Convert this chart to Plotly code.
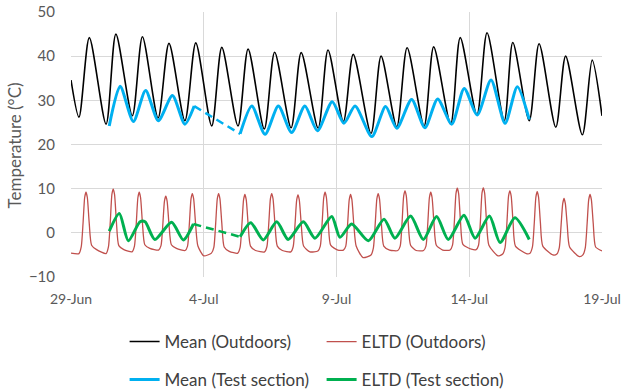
import pandas as pd
import plotly.graph_objects as go

base = pd.Timestamp("2019-06-29")

# ---- Mean (Outdoors): time in days since 29-Jun, temperature (°C)
mean_out_t = [0.00, 0.30, 0.69, 1.32, 1.69, 2.31, 2.69, 3.28, 3.69, 4.29, 4.70, 5.30, 5.68,
              6.29, 6.67, 7.28, 7.67, 8.29, 8.67, 9.31, 9.68, 10.26, 10.63, 11.30, 11.68,
              12.27, 12.66, 13.30, 13.66, 14.30, 14.66, 15.29, 15.67, 16.32, 16.64, 17.26,
              17.63, 18.26, 18.63, 19.26, 19.63, 20.00]
mean_out_v = [34.6, 26.2, 44.2, 24.6, 45.0, 26.5, 44.4, 26.0, 42.9, 25.4, 43.0, 24.2, 42.0,
              24.2, 41.6, 23.5, 40.9, 23.8, 40.8, 23.7, 41.4, 25.2, 40.4, 22.5, 40.0,
              24.0, 41.9, 24.2, 42.1, 24.6, 44.2, 26.7, 45.3, 25.4, 43.1, 25.4,
              42.8, 23.9, 40.0, 22.2, 39.1, 26.5]

# ---- ELTD (Outdoors): one row per day (low, rise, half, near top, peak, near top, half, fall, flat)
eltd_out_t = [0.00,
              0.30, 0.385, 0.455, 0.515, 0.565, 0.615, 0.685, 0.775, 0.965,
              1.32, 1.41, 1.48, 1.54, 1.59, 1.64, 1.71, 1.80, 1.99,
              2.30, 2.39, 2.46, 2.52, 2.57, 2.62, 2.69, 2.78, 2.97,
              3.30, 3.39, 3.46, 3.52, 3.57, 3.62, 3.69, 3.78, 3.97,
              4.30, 4.39, 4.46, 4.52, 4.57, 4.62, 4.69, 4.78, 5.00,
              5.29, 5.38, 5.45, 5.51, 5.56, 5.61, 5.68, 5.77, 5.96,
              6.28, 6.37, 6.44, 6.50, 6.55, 6.60, 6.67, 6.76, 6.95,
              7.29, 7.38, 7.45, 7.51, 7.56, 7.61, 7.68, 7.77, 7.96,
              8.28, 8.37, 8.44, 8.50, 8.55, 8.60, 8.67, 8.76, 9.00,
              9.30, 9.39, 9.46, 9.52, 9.57, 9.62, 9.69, 9.78, 10.05,
              10.26, 10.35, 10.42, 10.48, 10.53, 10.58, 10.65, 10.74, 11.00,
              11.30, 11.39, 11.46, 11.52, 11.57, 11.62, 11.69, 11.78, 12.00,
              12.31, 12.40, 12.47, 12.53, 12.58, 12.63, 12.70, 12.79, 13.00,
              13.28, 13.37, 13.44, 13.50, 13.55, 13.60, 13.67, 13.76, 14.00,
              14.28, 14.37, 14.44, 14.50, 14.55, 14.60, 14.67, 14.76, 15.08,
              15.26, 15.35, 15.42, 15.48, 15.53, 15.58, 15.65, 15.74, 16.08,
              16.26, 16.35, 16.42, 16.48, 16.53, 16.58, 16.65, 16.74, 17.15,
              17.29, 17.38, 17.45, 17.51, 17.56, 17.61, 17.68, 17.77, 18.15,
              18.30, 18.39, 18.46, 18.52, 18.57, 18.62, 18.69, 18.78, 19.15,
              19.28, 19.37, 19.44, 19.50, 19.55, 19.60, 19.67, 19.76, 20.00]
eltd_out_v = [-4.6,
              -4.7, -3.2, 2.3, 8.0, 9.2, 8.0, 2.3, -2.8, -3.8,
              -4.7, -3.2, 2.5, 8.7, 9.9, 8.7, 2.5, -2.9, -3.8,
              -4.3, -3.0, 2.3, 8.0, 9.2, 8.0, 2.3, -2.7, -3.5,
              -3.9, -2.9, 2.0, 7.2, 8.3, 7.2, 2.0, -2.7, -3.5,
              -4.0, -3.0, 2.2, 7.7, 8.9, 7.7, 2.2, -3.0, -5.2,
              -4.6, -3.3, 2.2, 7.7, 8.9, 7.7, 2.2, -3.2, -4.2,
              -4.6, -3.3, 2.1, 7.5, 8.7, 7.5, 2.1, -3.0, -4.0,
              -4.3, -3.1, 2.2, 7.7, 8.9, 7.7, 2.2, -3.0, -4.0,
              -4.3, -3.1, 2.1, 7.4, 8.6, 7.4, 2.1, -3.0, -4.3,
              -4.1, -3.0, 2.3, 8.0, 9.2, 8.0, 2.3, -2.8, -3.9,
              -3.9, -3.0, 2.1, 7.5, 8.7, 7.5, 2.1, -3.0, -5.6,
              -5.0, -3.4, 2.2, 7.7, 8.9, 7.7, 2.2, -3.0, -3.9,
              -4.0, -3.0, 2.4, 8.3, 9.5, 8.3, 2.4, -2.8, -4.0,
              -4.0, -3.0, 2.3, 8.0, 9.2, 8.0, 2.3, -2.8, -3.9,
              -3.9, -2.8, 2.6, 8.9, 10.1, 8.9, 2.6, -2.6, -3.7,
              -3.8, -2.8, 2.6, 9.0, 10.2, 9.0, 2.6, -2.8, -5.2,
              -4.8, -3.3, 2.4, 8.3, 9.5, 8.3, 2.4, -3.0, -4.7,
              -4.6, -3.2, 2.3, 8.1, 9.3, 8.1, 2.3, -3.0, -5.0,
              -4.8, -3.4, 1.8, 6.6, 7.8, 6.6, 1.8, -3.2, -5.4,
              -5.0, -3.4, 2.1, 7.5, 8.7, 7.5, 2.1, -3.2, -4.1]

# ---- Mean (Test section): two measured parts, joined by a dashed gap
mean_ts_t1 = [1.44, 1.85, 2.35, 2.81, 3.29, 3.82, 4.29, 4.64]
mean_ts_v1 = [24.2, 33.2, 25.2, 32.2, 25.4, 31.1, 24.6, 28.7]
mean_ts_t2 = [6.37, 6.81, 7.31, 7.81, 8.31, 8.81, 9.28, 9.84, 10.28, 10.70, 11.33, 11.85,
              12.27, 12.83, 13.33, 13.81, 14.34, 14.81, 15.30, 15.82, 16.35, 16.81, 17.26]
mean_ts_v2 = [22.4, 28.7, 22.3, 28.7, 22.7, 28.7, 23.1, 29.7, 24.8, 28.7, 21.8, 28.6,
              23.7, 30.2, 23.8, 30.3, 24.6, 32.7, 26.7, 34.6, 24.8, 33.1, 25.7]

# ---- ELTD (Test section)
eltd_ts_t1 = [1.44, 1.82, 2.16, 2.60, 2.79, 3.16, 3.79, 4.23, 4.61]
eltd_ts_v1 = [0.4, 4.4, -1.8, 2.5, 2.5, -1.5, 2.4, -1.6, 2.0]
eltd_ts_t2 = [6.37, 6.77, 7.24, 7.75, 8.18, 8.75, 9.19, 9.82, 10.13, 10.57, 11.20, 11.79,
              12.20, 12.79, 13.27, 13.77, 14.21, 14.80, 15.22, 15.76, 16.16, 16.72, 17.26]
eltd_ts_v2 = [-0.9, 2.3, -1.6, 2.5, -1.5, 2.5, -1.2, 3.7, -1.0, 2.0, -1.8, 3.1,
              -1.2, 3.8, -1.5, 3.7, -1.5, 4.0, -1.2, 3.8, -2.2, 3.4, -1.5]

tick_days = [0, 5, 10, 15, 20]
y_title = "Temperature (°C)"


def to_dt(days):
    return [base + pd.Timedelta(days=d) for d in days]


BLACK = "#000000"
RED = "#C0504D"
BLUE = "#00B0F0"
GREEN = "#00B050"
FONT = "Lato"
W, H = 624, 389
ML, MR, MT, MB = 71, 22, 12, 112

fig = go.Figure()
fig.add_trace(go.Scatter(x=to_dt(mean_out_t), y=mean_out_v, mode="lines", name="Mean (Outdoors)",
                         line=dict(color=BLACK, width=1.6, shape="spline", smoothing=0.8),
                         legend="legend"))
fig.add_trace(go.Scatter(x=to_dt(eltd_out_t), y=eltd_out_v, mode="lines", name="ELTD (Outdoors)",
                         line=dict(color=RED, width=1.3, shape="spline", smoothing=0.6),
                         legend="legend"))
# Test section, mean
fig.add_trace(go.Scatter(x=to_dt(mean_ts_t1) + [None] + to_dt(mean_ts_t2),
                         y=mean_ts_v1 + [None] + mean_ts_v2, mode="lines",
                         name="Mean (Test section)", connectgaps=False,
                         line=dict(color=BLUE, width=3, shape="spline", smoothing=0.7),
                         legend="legend2"))
fig.add_trace(go.Scatter(x=to_dt([mean_ts_t1[-1], mean_ts_t2[0]]),
                         y=[mean_ts_v1[-1], mean_ts_v2[0]], mode="lines", showlegend=False,
                         line=dict(color=BLUE, width=2.5, dash="8px,5px")))
# Test section, ELTD
fig.add_trace(go.Scatter(x=to_dt(eltd_ts_t1) + [None] + to_dt(eltd_ts_t2),
                         y=eltd_ts_v1 + [None] + eltd_ts_v2, mode="lines",
                         name="ELTD (Test section)", connectgaps=False,
                         line=dict(color=GREEN, width=3, shape="spline", smoothing=0.7),
                         legend="legend2"))
fig.add_trace(go.Scatter(x=to_dt([eltd_ts_t1[-1], eltd_ts_t2[0]]),
                         y=[eltd_ts_v1[-1], eltd_ts_v2[0]], mode="lines", showlegend=False,
                         line=dict(color=GREEN, width=2.5, dash="8px,5px")))

legend_common = dict(orientation="h", xref="container", yref="container", xanchor="left",
                     yanchor="middle", entrywidth=152, entrywidthmode="pixels",
                     font=dict(family=FONT, size=17, color="#404040"),
                     bgcolor="rgba(0,0,0,0)", borderwidth=0)

plot_w = W - ML - MR
plot_h = H - MT - MB

fig.update_layout(
    width=W, height=H,
    margin=dict(l=ML, r=MR, t=MT, b=MB, autoexpand=False),
    paper_bgcolor="white", plot_bgcolor="white",
    font=dict(family=FONT, size=14, color="#595959"),
    legend=dict(x=124.6 / W, y=(H - 342) / H, **legend_common),
    legend2=dict(x=124.6 / W, y=(H - 380) / H, **legend_common),
    xaxis=dict(type="date", range=[base, base + pd.Timedelta(days=20)],
               tickvals=to_dt(tick_days), tickformat="%-d-%b", automargin=False,
               showgrid=True, gridcolor="#D9D9D9", gridwidth=1.3,
               showline=False, zeroline=False, ticks="", ticklabelstandoff=12,
               ticklabeloverflow="allow",
               tickfont=dict(family=FONT, size=14, color="#595959")),
    yaxis=dict(range=[-10, 50], dtick=10, tick0=0, automargin=False,
               showgrid=True, gridcolor="#D9D9D9", gridwidth=1.3,
               showline=False, zeroline=False, ticks="", ticklabelstandoff=15,
               ticklabeloverflow="allow",
               tickfont=dict(family=FONT, size=15, color="#595959")),
    shapes=[dict(type="line", xref="paper", x0=0.002, x1=1, yref="y", y0=50, y1=50,
                 line=dict(color="white", width=2), layer="between")],
    annotations=[dict(text=y_title, textangle=-90, showarrow=False,
                      xref="paper", x=(14 - ML) / plot_w, xanchor="center",
                      yref="paper", y=(MT + plot_h - 145.5) / plot_h, yanchor="middle",
                      font=dict(family=FONT, size=17, color="#595959"))],
)

fig.write_html("out.html", config={"displayModeBar": False},
               post_script="document.body.style.margin='0px';")
